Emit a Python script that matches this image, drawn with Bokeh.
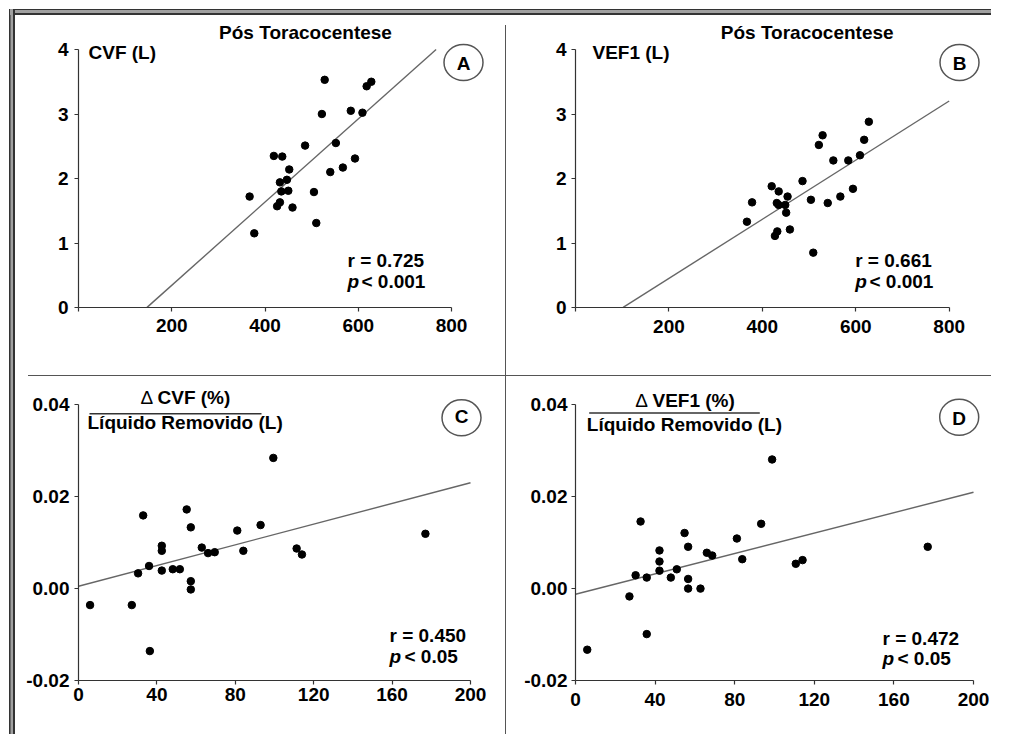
from bokeh.plotting import figure
from bokeh.models import Label, FixedTicker, NumeralTickFormatter, Range1d, Div
from bokeh.layouts import column, row
from bokeh.embed import file_html
from bokeh.resources import INLINE

FONT = "Liberation Sans"
TXT = "19px"

# ---------------- data ----------------
# A: CVF (L) vs distance (m)
cvf_dist = [528, 628, 618, 522, 584, 609, 552, 486, 419, 437, 593, 452, 540,
            567, 447, 432, 435, 450, 505, 367, 432, 426, 459, 510, 377]
cvf_post = [3.53, 3.50, 3.43, 3.00, 3.05, 3.02, 2.55, 2.51, 2.35, 2.34, 2.31, 2.14, 2.10,
            2.17, 1.98, 1.94, 1.80, 1.81, 1.79, 1.72, 1.63, 1.57, 1.55, 1.31, 1.15]
cvf_fit = [-0.946, 0.00645]          # intercept, slope
cvf_fit_x = [147, 767]

# B: VEF1 (L) vs distance (m)
vef_dist = [628, 529, 521, 618, 552, 584, 609, 486, 420, 435, 594, 454, 567,
            504, 540, 378, 431, 435, 449, 451, 367, 459, 432, 427, 509]
vef_post = [2.88, 2.67, 2.52, 2.60, 2.28, 2.28, 2.36, 1.96, 1.88, 1.80, 1.84, 1.72, 1.72,
            1.67, 1.62, 1.63, 1.62, 1.59, 1.59, 1.47, 1.33, 1.21, 1.18, 1.11, 0.85]
vef_fit = [-0.466, 0.004585]
vef_fit_x = [102, 800]

# C: delta CVF / liquid removed vs delta distance
dcvf_dist = [99.4, 55.2, 33.0, 57.3, 92.9, 81.0, 42.5, 42.5, 62.9, 66.1, 69.5, 84.1, 111.3,
             114.0, 177.0, 36.0, 30.4, 42.5, 48.1, 51.7, 57.3, 57.3, 5.9, 27.2, 36.4]
dcvf_ratio = [0.0284, 0.0172, 0.0159, 0.0133, 0.0138, 0.0126, 0.0093, 0.0082, 0.0089, 0.0077,
              0.0079, 0.0082, 0.0087, 0.0074, 0.0119, 0.0049, 0.0033, 0.0039, 0.0042, 0.0042,
              0.0016, -0.0002, -0.0036, -0.0036, -0.0136]
dcvf_fit = [0.0005, 0.0001125]
dcvf_fit_x = [0, 200]

# D: delta VEF1 / liquid removed vs delta distance
dvef_dist = [98.8, 32.7, 93.3, 54.8, 56.6, 81.1, 42.2, 66.0, 68.7, 83.8, 42.2, 110.7, 114.1,
             177.0, 42.2, 50.9, 30.2, 35.8, 47.9, 56.6, 56.6, 62.8, 27.1, 35.8, 5.9]
dvef_ratio = [0.0281, 0.0146, 0.0141, 0.0121, 0.0091, 0.0109, 0.0083, 0.0078, 0.0072, 0.0064,
              0.0059, 0.0054, 0.0062, 0.0091, 0.0039, 0.0042, 0.0029, 0.0024, 0.0024, 0.0021,
              0.0, 0.0, -0.0017, -0.0099, -0.0133]
dvef_fit = [-0.00124, 0.000111]
dvef_fit_x = [0, 200]

stats = {"A": ("r = 0.725", "< 0.001"), "B": ("r = 0.661", "< 0.001"),
         "C": ("r = 0.450", "< 0.05"), "D": ("r = 0.472", "< 0.05")}

x_ticks_top = [0, 200, 400, 600, 800]
y_ticks_top = [0, 1, 2, 3, 4]
x_ticks_bot = [0, 40, 80, 120, 160, 200]
y_ticks_bot = [-0.02, 0.0, 0.02, 0.04]

LINE = "#555555"
DARK = "#333333"
GREY = "#a0a0a0"
LEFT_FRAME = {"box-shadow": f"-2px 0 0 0 {DARK}, -4.5px 0 0 0 {GREY}, -6px 0 0 0 {DARK}"}


# ---------------- helpers ----------------
def make_panel(g, styles=None):
    p = figure(width=g["w"], height=g["h"], title=None,
               x_range=Range1d(g["x0"], g["x1"]), y_range=Range1d(g["y0"], g["y1"]),
               output_backend="svg", toolbar_location=None,
               min_border_left=g["ml"], min_border_right=g["mr"],
               min_border_top=g["mt"], min_border_bottom=g["mb"])
    if styles:
        p.styles = styles
    p.grid.visible = False
    p.outline_line_color = None
    p.background_fill_color = "white"
    p.border_fill_color = "white"
    for ax in (p.xaxis[0], p.yaxis[0]):
        ax.axis_line_color = "#333333"
        ax.axis_line_width = 1.2
        ax.major_tick_line_color = "#333333"
        ax.major_tick_line_width = 1.2
        ax.major_tick_out = 4
        ax.major_tick_in = 0
        ax.minor_tick_line_color = None
        ax.major_label_text_font = FONT
        ax.major_label_text_font_size = TXT
        ax.major_label_text_font_style = "bold"
        ax.major_label_text_color = "black"
    p.xaxis[0].ticker = FixedTicker(ticks=g["xticks"])
    p.yaxis[0].ticker = FixedTicker(ticks=g["yticks"])
    p.xaxis[0].bounds = (g["xticks"][0], g["xticks"][-1])
    p.yaxis[0].bounds = (g["yticks"][0], g["yticks"][-1])
    p.xaxis[0].major_label_standoff = g["xs"]
    p.yaxis[0].major_label_standoff = g["ys"]
    return p


def frame_pos(g):
    fl = g["ox"] + g["ml"]
    fb = g["oy"] + g["h"] - g["mb"]
    return fl, fb


def txt(p, g, X, Y, s, align="left", style="bold", size=TXT):
    fl, fb = frame_pos(g)
    p.add_layout(Label(x=X - fl, y=fb - Y, x_units="screen", y_units="screen", text=s,
                       text_align=align, text_baseline="middle", text_font=FONT,
                       text_font_style=style, text_font_size=size, text_color="black"))


def to_data(g, X, Y):
    fl, fb = frame_pos(g)
    return g["x0"] + (X - fl) / g["kx"], g["y0"] + (fb - Y) / g["ky"]


def badge(p, g, X, Y, letter):
    cx, cy = to_data(g, X, Y)
    p.ellipse(x=[cx], y=[cy], width=39, height=36, width_units="screen", height_units="screen",
              fill_color=None, line_color="#555555", line_width=1.5)
    txt(p, g, X, Y + 1, letter, align="center", style="bold")


def fraction_bar(p, g, X0, X1, Y):
    a, b = to_data(g, X0, Y)
    c, d = to_data(g, X1, Y)
    p.segment(x0=[a], y0=[b], x1=[c], y1=[d], line_color="#333333", line_width=1.5)


def fit_line(p, fit, xs):
    p.line(x=xs, y=[fit[0] + fit[1] * x for x in xs], line_color="#666666", line_width=1.4)


# ---------------- panel geometry (page pixels) ----------------
gA = dict(ox=15, oy=15, w=490, h=360, ml=63, mr=5, mt=5, mb=68, kx=0.46625, ky=64.5,
          xticks=x_ticks_top, yticks=y_ticks_top, xs=7, ys=6)
gB = dict(ox=506, oy=15, w=485, h=360, ml=69, mr=5, mt=5, mb=68, kx=0.4671, ky=64.5,
          xticks=x_ticks_top, yticks=y_ticks_top, xs=8, ys=5)
gC = dict(ox=15, oy=376, w=490, h=358, ml=63, mr=5, mt=5, mb=51, kx=1.96, ky=4645.0,
          xticks=x_ticks_bot, yticks=y_ticks_bot, xs=3, ys=5)
gD = dict(ox=506, oy=376, w=485, h=358, ml=69, mr=5, mt=5, mb=54, kx=1.99, ky=4595.0,
          xticks=x_ticks_bot, yticks=y_ticks_bot, xs=8, ys=4)
for g in (gA, gB, gC, gD):
    fw = g["w"] - g["ml"] - g["mr"]
    fh = g["h"] - g["mt"] - g["mb"]
    g["x0"] = g["xticks"][0]
    g["x1"] = g["x0"] + fw / g["kx"]
    g["y0"] = g["yticks"][0]
    g["y1"] = g["y0"] + fh / g["ky"]

# ---------------- panel A ----------------
pA = make_panel(gA, LEFT_FRAME)
pA.xaxis[0].major_label_overrides = {0: ""}
fit_line(pA, cvf_fit, cvf_fit_x)
pA.scatter(cvf_dist, cvf_post, size=7.5, color="black")
txt(pA, gA, 305, 32, "Pós Toracocentese", align="center")
txt(pA, gA, 88, 52, "CVF (L)")
badge(pA, gA, 463, 62, "A")
txt(pA, gA, 347, 260, stats["A"][0])
txt(pA, gA, 347, 281, "p", style="bold italic")
txt(pA, gA, 361, 281, stats["A"][1])
txt(pA, gA, 155, 356, "Distância percorrida (m)")

# ---------------- panel B ----------------
pB = make_panel(gB)
pB.xaxis[0].major_label_overrides = {0: ""}
fit_line(pB, vef_fit, vef_fit_x)
pB.scatter(vef_dist, vef_post, size=7.5, color="black")
txt(pB, gB, 806.7, 32, "Pós Toracocentese", align="center")
txt(pB, gB, 592, 52, "VEF1 (L)")
badge(pB, gB, 959, 62, "B")
txt(pB, gB, 854.7, 260, stats["B"][0])
txt(pB, gB, 854.7, 281, "p", style="bold italic")
txt(pB, gB, 869, 281, stats["B"][1])
txt(pB, gB, 655, 356, "Distância percorrida (m)")

# ---------------- panel C ----------------
pC = make_panel(gC, LEFT_FRAME)
pC.yaxis[0].formatter = NumeralTickFormatter(format="0.00")
fit_line(pC, dcvf_fit, dcvf_fit_x)
pC.scatter(dcvf_dist, dcvf_ratio, size=7.5, color="black")
txt(pC, gC, 140, 400, "Δ", style="normal")
txt(pC, gC, 157, 400, "CVF (%)")
fraction_bar(pC, gC, 89, 261, 413.5)
txt(pC, gC, 87, 425, "Líquido Removido (L)")
badge(pC, gC, 461, 417.7, "C")
txt(pC, gC, 389, 638.3, stats["C"][0])
txt(pC, gC, 389, 659, "p", style="bold italic")
txt(pC, gC, 404, 659, stats["C"][1])
txt(pC, gC, 154, 723, "Δ", style="normal")
txt(pC, gC, 172, 723, "Distância percorrida (m)")

# ---------------- panel D ----------------
pD = make_panel(gD)
pD.yaxis[0].formatter = NumeralTickFormatter(format="0.00")
fit_line(pD, dvef_fit, dvef_fit_x)
pD.scatter(dvef_dist, dvef_ratio, size=7.5, color="black")
txt(pD, gD, 634.7, 400, "Δ", style="normal")
txt(pD, gD, 652, 400, "VEF1 (%)")
fraction_bar(pD, gD, 588.7, 759.3, 412.5)
txt(pD, gD, 586.3, 424, "Líquido Removido (L)")
badge(pD, gD, 958.7, 416.7, "D")
txt(pD, gD, 882, 638.3, stats["D"][0])
txt(pD, gD, 882, 658.3, "p", style="bold italic")
txt(pD, gD, 897, 658.3, stats["D"][1])
txt(pD, gD, 647, 723, "Δ", style="normal")
txt(pD, gD, 665, 723, "Distância Percorrida (m)")

# ---------------- frame and dividers ----------------
STRIPES_H = (f"linear-gradient(to top, {DARK} 0px, {DARK} 2px, {GREY} 2px, {GREY} 4.5px, "
             f"{DARK} 4.5px, {DARK} 6px, #ffffff 6px, #ffffff 100%)")
STRIPES_V = (f"linear-gradient(to left, {DARK} 0px, {DARK} 2px, {GREY} 2px, {GREY} 4.5px, "
             f"{DARK} 4.5px, {DARK} 6px, #ffffff 6px, #ffffff 100%)")

vdiv1 = Div(text="", width=1, height=360, margin=0,
            styles={"background": f"linear-gradient(to bottom, #ffffff 0px, #ffffff 10px, {LINE} 10px, {LINE} 100%)"})
vdiv2 = Div(text="", width=1, height=358, margin=0, styles={"background": LINE})
hdiv = Div(text="", width=976, height=1, margin=0,
           styles=dict(LEFT_FRAME, background=f"linear-gradient(to right, #ffffff 0px, #ffffff 13px, {LINE} 13px, {LINE} 100%)"))
topbar = Div(text="", width=976, height=15, margin=0, styles={"background": STRIPES_H})
leftbar = Div(text="", width=15, height=725, margin=(9, 0, 0, 0), styles={"background": STRIPES_V})

grid = column(row(pA, vdiv1, pB), hdiv, row(pC, vdiv2, pD))
layout = row(leftbar, column(topbar, grid))

open("out.html", "w").write(file_html(layout, INLINE))
